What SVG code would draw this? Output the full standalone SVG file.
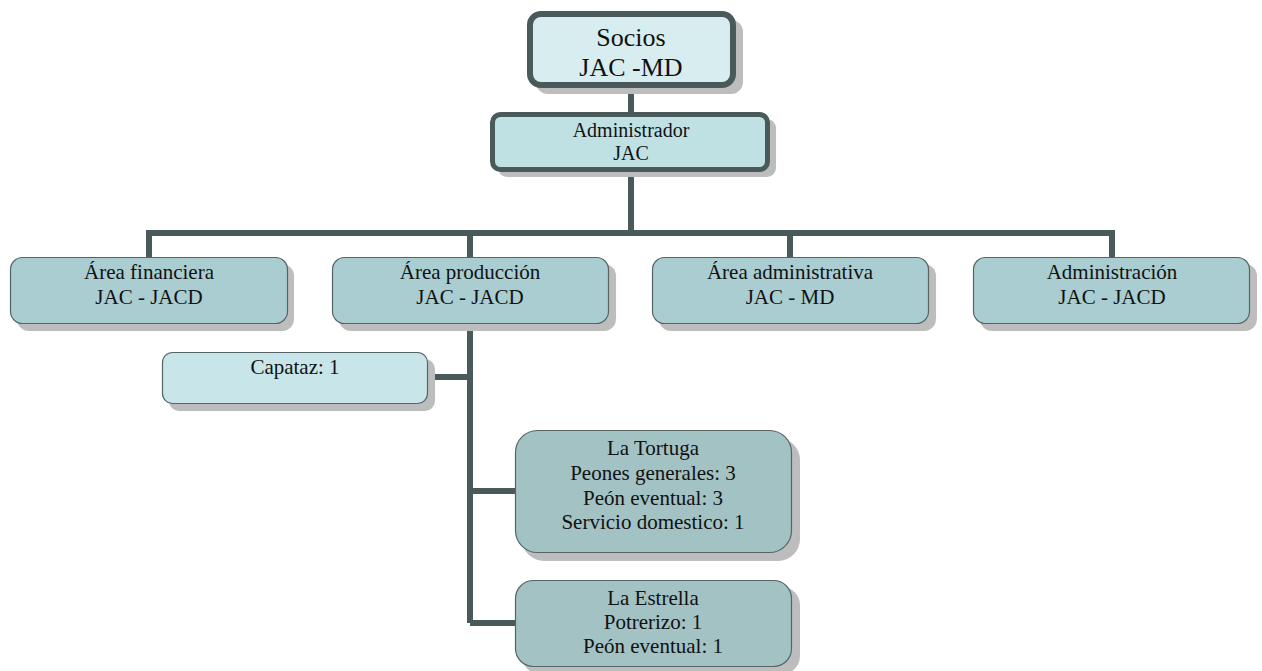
<svg xmlns="http://www.w3.org/2000/svg" width="1262" height="671" viewBox="0 0 1262 671" font-family="'Liberation Serif', Tinos, 'Times New Roman', 'DejaVu Serif', serif">
<style>
text{font-family:'Liberation Serif',Tinos,'Times New Roman','DejaVu Serif',serif;fill:#111;text-anchor:middle}
.t{font-size:21px}
.a{font-size:20px}
.big{font-size:26px}
.sh{fill:#bdbdbd}
.thick{stroke:#4a5a5a;stroke-width:6}
.mid{stroke:#4a5a5a;stroke-width:5}
.thin{stroke:#556565;stroke-width:1.2}
.c{fill:none;stroke:#4a5a5a;stroke-width:6}
</style>
<rect width="1262" height="671" fill="#ffffff"/>
<g id="connectors">
<path class="c" d="M631 88V112M631 172V233M149 257V233H1112V257M470 233V257M790 233V257"/>
<path class="c" d="M470 324V623M428 377H470M470 491H515M470 623H515"/>
</g>
<g id="socios">
<rect class="sh" x="536" y="20" width="207" height="74" rx="12"/>
<rect class="thick" x="530" y="14" width="203" height="71" rx="11" fill="#d7edf0"/>
<text class="big" x="631" y="46">Socios</text>
<text class="big" x="631" y="76">JAC -MD</text>
</g>
<g id="administrador">
<rect class="sh" x="498" y="119" width="278" height="58" rx="9"/>
<rect class="mid" x="492.5" y="114.5" width="275" height="55" rx="8" fill="#bfe1e4"/>
<text class="a" x="631" y="137">Administrador</text>
<text class="a" x="631" y="160">JAC</text>
</g>
<g id="area-financiera">
<rect class="sh" x="17" y="264" width="277" height="67" rx="12"/>
<rect class="thin" x="10.5" y="257.5" width="277" height="66" rx="12" fill="#a9cdd0"/>
<text class="t" x="149" y="279">Área financiera</text>
<text class="t" x="149" y="304">JAC - JACD</text>
</g>
<g id="area-produccion">
<rect class="sh" x="339" y="264" width="277" height="67" rx="12"/>
<rect class="thin" x="332.5" y="257.5" width="276" height="66" rx="12" fill="#a9cdd0"/>
<text class="t" x="470" y="279">Área producción</text>
<text class="t" x="470" y="304">JAC - JACD</text>
</g>
<g id="area-administrativa">
<rect class="sh" x="659" y="264" width="277" height="67" rx="12"/>
<rect class="thin" x="652.5" y="257.5" width="276" height="66" rx="12" fill="#a9cdd0"/>
<text class="t" x="790" y="279">Área administrativa</text>
<text class="t" x="790" y="304">JAC - MD</text>
</g>
<g id="administracion">
<rect class="sh" x="980" y="264" width="277" height="67" rx="12"/>
<rect class="thin" x="973.5" y="257.5" width="276" height="66" rx="12" fill="#a9cdd0"/>
<text class="t" x="1112" y="279">Administración</text>
<text class="t" x="1112" y="304">JAC - JACD</text>
</g>
<g id="capataz">
<rect class="sh" x="169" y="359" width="266" height="52" rx="10"/>
<rect class="thin" x="162.5" y="352.5" width="265" height="51" rx="10" fill="#c8e6e9"/>
<text class="t" x="295" y="374">Capataz: 1</text>
</g>
<g id="la-tortuga">
<rect class="sh" x="522" y="438" width="278" height="123" rx="22"/>
<rect class="thin" x="515.5" y="430.5" width="276" height="122" rx="22" fill="#a3c2c4"/>
<text class="t" x="653" y="455">La Tortuga</text>
<text class="t" x="653" y="480">Peones generales: 3</text>
<text class="t" x="653" y="505">Peón eventual: 3</text>
<text class="t" x="653" y="529">Servicio domestico: 1</text>
</g>
<g id="la-estrella">
<rect class="sh" x="522" y="587" width="278" height="87" rx="18"/>
<rect class="thin" x="515.5" y="580.5" width="276" height="86" rx="18" fill="#a3c2c4"/>
<text class="t" x="653" y="605">La Estrella</text>
<text class="t" x="653" y="629">Potrerizo: 1</text>
<text class="t" x="653" y="653">Peón eventual: 1</text>
</g>
</svg>
